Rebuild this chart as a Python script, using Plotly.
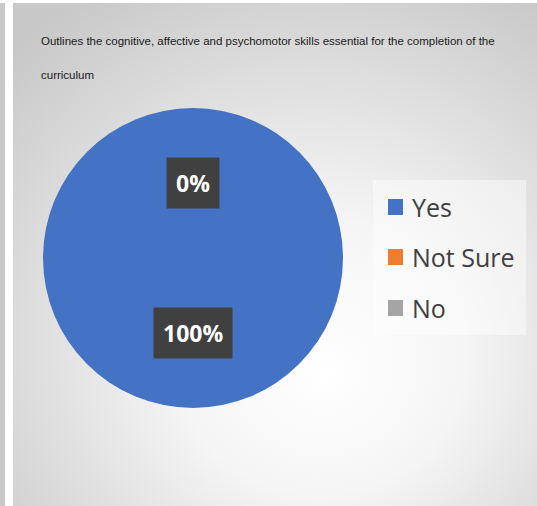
import base64
import plotly.graph_objects as go

# ---- data ----
categories = ["Yes", "Not Sure", "No"]
values = [100, 0, 0]
colors = ["#4472C4", "#ED7D31", "#A5A5A5"]
title_lines = [
    "Outlines the cognitive, affective and psychomotor skills essential for the completion of the",
    "curriculum",
]

W, H = 537, 506
total = sum(values)
pcts = [f"{round(100 * v / total)}%" for v in values]

def px(x):
    return x / W

def py(y):
    return 1 - y / H

fig = go.Figure()
fig.add_trace(go.Pie(
    labels=categories,
    values=values,
    marker=dict(colors=colors, line=dict(width=0)),
    textinfo="none",
    sort=False,
    direction="clockwise",
    showlegend=False,
    hoverinfo="label+percent",
    domain=dict(x=[px(43), px(343)], y=[py(408), py(108)]),
))

# background gradient (svg image)
svg = """<svg xmlns='http://www.w3.org/2000/svg' width='524' height='503' viewBox='0 0 524 503'>
<defs><radialGradient id='g' cx='0.56' cy='0.64' r='0.78' fx='0.6' fy='0.74'>
<stop offset='0' stop-color='#ffffff'/>
<stop offset='0.35' stop-color='#f5f5f5'/>
<stop offset='1' stop-color='#c8c8c8'/>
</radialGradient></defs>
<rect width='524' height='503' fill='url(#g)'/></svg>"""
src = "data:image/svg+xml;base64," + base64.b64encode(svg.encode()).decode()

shapes = [
    dict(type="rect", xref="paper", yref="paper", x0=0, x1=px(5), y0=0, y1=py(3),
         fillcolor="#c8c8c8", line=dict(width=0), layer="below"),
    # legend box
    dict(type="rect", xref="paper", yref="paper", x0=px(373), x1=px(526), y0=py(335), y1=py(180),
         fillcolor="rgba(255,255,255,0.45)", line=dict(width=0), layer="below"),
]

annotations = []
for i, line in enumerate(title_lines):
    annotations.append(dict(
        text=line, xref="paper", yref="paper", x=px(39), y=py(41 + 34 * i),
        xanchor="left", yanchor="middle", showarrow=False,
        font=dict(family="Liberation Sans Narrow, Liberation Sans, Arial, sans-serif",
                  size=11.5, color="#1a1a1a"),
    ))

# legend drawn from categories/colors
leg_y = [207, 257, 308]
for cat, col, yy in zip(categories, colors, leg_y):
    shapes.append(dict(type="rect", xref="paper", yref="paper",
                       x0=px(388), x1=px(403), y0=py(yy + 8), y1=py(yy - 8),
                       fillcolor=col, line=dict(width=0)))
    annotations.append(dict(
        text=cat, xref="paper", yref="paper", x=px(410), y=py(yy),
        xanchor="left", yanchor="middle", showarrow=False,
        font=dict(family="Open Sans, Lato, sans-serif", size=25, color="#404040"),
    ))

# data labels
label_pos = {0: (193, 333), 1: (193, 183)}
for i, (x, y) in label_pos.items():
    annotations.append(dict(
        text=f"<b>{pcts[i]}</b>", xref="paper", yref="paper", x=px(x), y=py(y),
        xanchor="center", yanchor="middle", showarrow=False,
        font=dict(family="Open Sans, Lato, sans-serif", size=23, color="white"),
        bgcolor="#404040", borderpad=9,
    ))

fig.update_layout(
    width=W, height=H,
    margin=dict(l=0, r=0, t=0, b=0),
    paper_bgcolor="white",
    plot_bgcolor="white",
    shapes=shapes,
    annotations=annotations,
    images=[dict(source=src, xref="paper", yref="paper", x=px(13), y=py(3),
                 sizex=px(537) - px(13), sizey=py(3) - py(506),
                 xanchor="left", yanchor="top", sizing="stretch", layer="below")],
)

fig.write_html(
    "out.html",
    config={"displayModeBar": False},
    post_script="document.body.style.margin='0';document.body.style.overflow='hidden';",
)
